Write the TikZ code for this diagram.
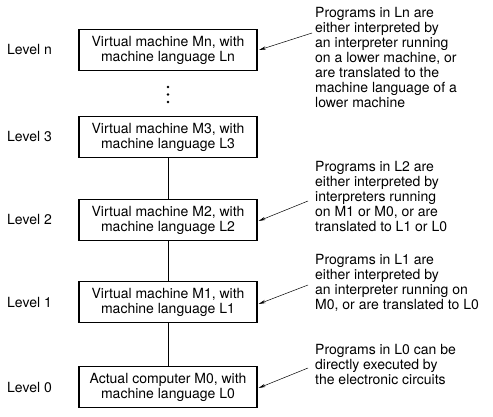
\documentclass[tikz,border=0pt]{standalone}
\usepackage{fontspec}
\setmainfont{TeX Gyre Heros}
\usetikzlibrary{arrows.meta}
\begin{document}
\begin{tikzpicture}[x=1pt,y=-1pt,
  box/.style={draw,line width=1.1pt,minimum width=178pt,minimum height=41pt,inner sep=0pt,align=center,font=\fontsize{14}{15}\selectfont},
  lvl/.style={anchor=west,inner sep=0pt,font=\fontsize{14}{15}\selectfont},
  note/.style={anchor=west,inner sep=0pt,align=left,font=\fontsize{14}{15}\selectfont},
  link/.style={line width=0.9pt},
  pointer/.style={line width=0.5pt,-{Stealth[length=7pt,width=3.2pt]}}]
\useasboundingbox (0,0) rectangle (493,417);
% boxes
\node[box] (bn) at (168,50) {Virtual machine Mn, with\\machine language Ln};
\node[box] (b3) at (168,137) {Virtual machine M3, with\\machine language L3};
\node[box] (b2) at (168,220) {Virtual machine M2, with\\machine language L2};
\node[box] (b1) at (168,302) {Virtual machine M1, with\\machine language L1};
\node[box] (b0) at (168,387) {Actual computer M0, with\\machine language L0};
% level labels
\node[lvl] (ln) at (7,50) {Level n};
\node[lvl] (l3) at (7,137) {Level 3};
\node[lvl] (l2) at (7,220) {Level 2};
\node[lvl] (l1) at (7,303) {Level 1};
\node[lvl] (l0) at (7,387) {Level 0};
% dots
\fill (168,87) circle (1.4);
\fill (168,94.5) circle (1.4);
\fill (168,102) circle (1.4);
% links
\draw[link] (b3) -- (b2);
\draw[link] (b2) -- (b1);
\draw[link] (b1) -- (b0);
% notes
\node[note] (tn) at (315,58) {Programs in Ln are\\either interpreted by\\an interpreter running\\on a lower machine, or\\are translated to the\\machine language of a\\lower machine};
\node[note] (t2) at (315,197) {Programs in L2 are\\either interpreted by\\interpreters running\\on M1 or M0, or are\\translated to L1 or L0};
\node[note] (t1) at (315,283) {Programs in L1 are\\either interpreted by\\an interpreter running on\\M0, or are translated to L0};
\node[note] (t0) at (315,365) {Programs in L0 can be\\directly executed by\\the electronic circuits};
\coordinate (sn) at (312,33);
\coordinate (s2) at (308,201);
\coordinate (s1) at (308,285);
\coordinate (s0) at (308,368);
\draw[pointer] (sn) -- ([xshift=1.5pt]bn.east);
\draw[pointer] (s2) -- ([xshift=1pt,yshift=-1pt]b2.east);
\draw[pointer] (s1) -- ([xshift=1pt,yshift=-2pt]b1.east);
\draw[pointer] (s0) -- ([xshift=1pt,yshift=-1pt]b0.east);
\end{tikzpicture}
\end{document}
